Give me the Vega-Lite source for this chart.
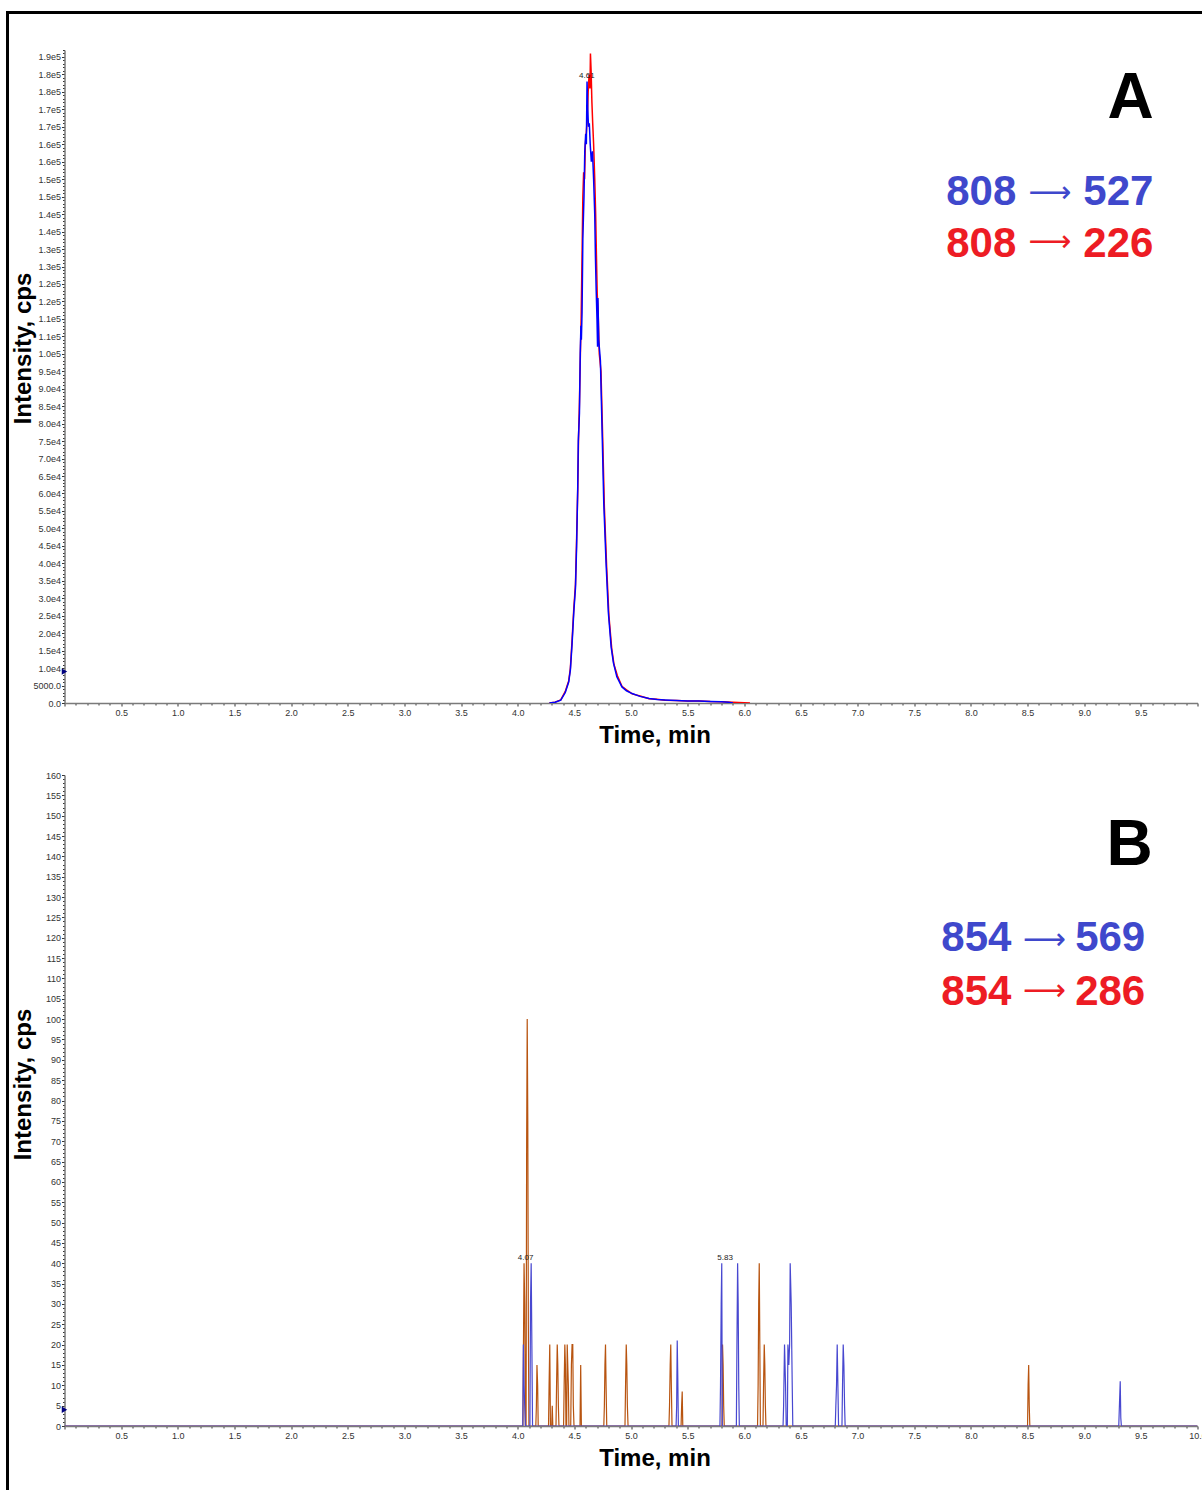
{
  "$schema": "https://vega.github.io/schema/vega-lite/v6.json",
  "padding": {"left": 5.5, "top": 10, "right": 0, "bottom": 0},
  "spacing": 72,
  "bounds": "flush",
  "background": "white",
  "config": {
    "view": {"stroke": null},
    "axis": {
      "grid": false,
      "zindex": 1,
      "labelFont": "Liberation Sans",
      "labelFontSize": 9,
      "labelColor": "#333333",
      "tickColor": "#333333",
      "domainColor": "#7a7a7a",
      "domainWidth": 1.5,
      "labelOverlap": false,
      "labelFlush": false,
      "labelBound": false,
      "titleFont": "Liberation Sans",
      "titleFontSize": 24,
      "titleFontWeight": "bold",
      "titleColor": "#000000"
    },
    "text": {"font": "Liberation Sans"}
  },
  "datasets": {
    "a527": [
      {"t":4.28,"v":0},{"t":4.33,"v":200},{"t":4.38,"v":800},{"t":4.42,"v":3000},{"t":4.45,"v":6000},{"t":4.465,"v":9500},{"t":4.48,"v":17000},{"t":4.495,"v":26000},{"t":4.51,"v":33000},{"t":4.52,"v":45000},{"t":4.53,"v":62000},{"t":4.535,"v":75000},{"t":4.545,"v":83000},{"t":4.552,"v":100000},{"t":4.558,"v":108000},{"t":4.562,"v":104000},{"t":4.568,"v":112000},{"t":4.575,"v":133000},{"t":4.585,"v":145000},{"t":4.592,"v":158000},{"t":4.6,"v":163000},{"t":4.606,"v":160000},{"t":4.612,"v":178000},{"t":4.618,"v":170000},{"t":4.625,"v":165000},{"t":4.632,"v":166000},{"t":4.64,"v":160000},{"t":4.65,"v":155000},{"t":4.66,"v":158000},{"t":4.67,"v":150000},{"t":4.68,"v":140000},{"t":4.686,"v":128000},{"t":4.693,"v":118000},{"t":4.7,"v":110000},{"t":4.705,"v":102000},{"t":4.708,"v":116000},{"t":4.715,"v":104000},{"t":4.73,"v":98000},{"t":4.745,"v":78000},{"t":4.76,"v":57000},{"t":4.78,"v":40000},{"t":4.8,"v":26000},{"t":4.825,"v":16000},{"t":4.845,"v":11500},{"t":4.875,"v":7500},{"t":4.92,"v":4600},{"t":4.96,"v":3500},{"t":5.01,"v":2700},{"t":5.08,"v":1900},{"t":5.16,"v":1300},{"t":5.23,"v":1000},{"t":5.3,"v":850},{"t":5.4,"v":700},{"t":5.5,"v":600},{"t":5.6,"v":550},{"t":5.7,"v":450},{"t":5.8,"v":350},{"t":5.86,"v":250},{"t":5.9,"v":0}
    ],
    "a226": [
      {"t":4.28,"v":0},{"t":4.33,"v":250},{"t":4.38,"v":900},{"t":4.42,"v":3300},{"t":4.45,"v":6300},{"t":4.465,"v":10000},{"t":4.48,"v":18000},{"t":4.495,"v":27000},{"t":4.51,"v":34000},{"t":4.52,"v":47000},{"t":4.53,"v":61000},{"t":4.537,"v":76000},{"t":4.545,"v":86000},{"t":4.552,"v":98000},{"t":4.56,"v":110000},{"t":4.568,"v":128000},{"t":4.575,"v":145000},{"t":4.582,"v":152000},{"t":4.59,"v":150000},{"t":4.597,"v":160000},{"t":4.605,"v":163000},{"t":4.615,"v":168000},{"t":4.622,"v":175000},{"t":4.63,"v":180000},{"t":4.638,"v":176000},{"t":4.642,"v":186000},{"t":4.648,"v":181000},{"t":4.655,"v":172000},{"t":4.662,"v":166000},{"t":4.67,"v":160000},{"t":4.68,"v":150000},{"t":4.688,"v":140000},{"t":4.695,"v":128000},{"t":4.702,"v":117000},{"t":4.71,"v":112000},{"t":4.72,"v":100000},{"t":4.735,"v":95000},{"t":4.75,"v":76000},{"t":4.765,"v":56000},{"t":4.785,"v":39000},{"t":4.805,"v":25000},{"t":4.83,"v":15500},{"t":4.85,"v":11000},{"t":4.88,"v":7800},{"t":4.92,"v":4800},{"t":4.96,"v":3800},{"t":5.01,"v":2600},{"t":5.08,"v":2000},{"t":5.16,"v":1200},{"t":5.23,"v":1050},{"t":5.3,"v":800},{"t":5.4,"v":750},{"t":5.5,"v":550},{"t":5.6,"v":600},{"t":5.7,"v":420},{"t":5.8,"v":380},{"t":5.9,"v":200},{"t":6.05,"v":0}
    ],
    "b286": [
      {"t":0,"v":0},
      {"t":4.046,"v":0},{"t":4.051,"v":20},{"t":4.056,"v":40},{"t":4.062,"v":30},{"t":4.068,"v":0},{"t":4.074,"v":0},{"t":4.079,"v":70},{"t":4.084,"v":100},{"t":4.089,"v":75},{"t":4.094,"v":25},{"t":4.099,"v":0},
      {"t":4.16,"v":0},{"t":4.165,"v":5},{"t":4.17,"v":15},{"t":4.176,"v":10},{"t":4.181,"v":0},
      {"t":4.272,"v":0},{"t":4.277,"v":10},{"t":4.283,"v":20},{"t":4.289,"v":0},{"t":4.3,"v":0},{"t":4.305,"v":5},{"t":4.31,"v":0},
      {"t":4.338,"v":0},{"t":4.343,"v":10},{"t":4.349,"v":20},{"t":4.354,"v":15},{"t":4.359,"v":5},{"t":4.364,"v":0},
      {"t":4.405,"v":0},{"t":4.41,"v":10},{"t":4.416,"v":20},{"t":4.421,"v":15},{"t":4.426,"v":0},{"t":4.432,"v":0},{"t":4.437,"v":20},{"t":4.442,"v":15},{"t":4.447,"v":10},{"t":4.452,"v":0},
      {"t":4.468,"v":0},{"t":4.474,"v":15},{"t":4.48,"v":20},{"t":4.486,"v":20},{"t":4.491,"v":5},{"t":4.497,"v":0},
      {"t":4.55,"v":0},{"t":4.556,"v":15},{"t":4.562,"v":0},
      {"t":4.76,"v":0},{"t":4.765,"v":5},{"t":4.77,"v":15},{"t":4.775,"v":20},{"t":4.78,"v":10},{"t":4.786,"v":0},
      {"t":4.947,"v":0},{"t":4.952,"v":10},{"t":4.958,"v":20},{"t":4.963,"v":15},{"t":4.968,"v":5},{"t":4.974,"v":0},
      {"t":5.335,"v":0},{"t":5.34,"v":5},{"t":5.346,"v":15},{"t":5.351,"v":20},{"t":5.356,"v":10},{"t":5.362,"v":0},
      {"t":5.442,"v":0},{"t":5.447,"v":5},{"t":5.452,"v":8.5},{"t":5.457,"v":0},
      {"t":5.803,"v":0},{"t":5.808,"v":20},{"t":5.813,"v":15},{"t":5.818,"v":5},{"t":5.823,"v":0},
      {"t":6.117,"v":0},{"t":6.122,"v":10},{"t":6.127,"v":30},{"t":6.132,"v":40},{"t":6.137,"v":20},{"t":6.142,"v":0},
      {"t":6.165,"v":0},{"t":6.17,"v":10},{"t":6.176,"v":20},{"t":6.181,"v":15},{"t":6.186,"v":5},{"t":6.191,"v":0},
      {"t":8.5,"v":0},{"t":8.505,"v":10},{"t":8.51,"v":15},{"t":8.515,"v":5},{"t":8.52,"v":0},
      {"t":10,"v":0}
    ],
    "b569": [
      {"t":0,"v":0},
      {"t":4.045,"v":0},{"t":4.05,"v":20},{"t":4.056,"v":10},{"t":4.062,"v":5},{"t":4.068,"v":0},
      {"t":4.108,"v":0},{"t":4.113,"v":30},{"t":4.119,"v":40},{"t":4.125,"v":20},{"t":4.131,"v":0},
      {"t":5.398,"v":0},{"t":5.403,"v":5},{"t":5.408,"v":21},{"t":5.413,"v":12},{"t":5.418,"v":0},
      {"t":5.785,"v":0},{"t":5.79,"v":10},{"t":5.796,"v":30},{"t":5.801,"v":40},{"t":5.806,"v":0},
      {"t":5.93,"v":0},{"t":5.935,"v":20},{"t":5.941,"v":40},{"t":5.946,"v":30},{"t":5.951,"v":10},{"t":5.956,"v":0},
      {"t":6.342,"v":0},{"t":6.347,"v":5},{"t":6.355,"v":20},{"t":6.364,"v":10},{"t":6.37,"v":0},{"t":6.38,"v":0},{"t":6.385,"v":20},{"t":6.393,"v":15},{"t":6.4,"v":20},{"t":6.405,"v":40},{"t":6.414,"v":30},{"t":6.423,"v":10},{"t":6.428,"v":0},
      {"t":6.803,"v":0},{"t":6.808,"v":5},{"t":6.814,"v":10},{"t":6.82,"v":20},{"t":6.826,"v":10},{"t":6.832,"v":0},
      {"t":6.862,"v":0},{"t":6.867,"v":10},{"t":6.873,"v":20},{"t":6.879,"v":15},{"t":6.885,"v":5},{"t":6.89,"v":0},
      {"t":9.305,"v":0},{"t":9.312,"v":6},{"t":9.318,"v":11},{"t":9.323,"v":2},{"t":9.328,"v":0},
      {"t":10,"v":0}
    ],
    "aLabels": [{"t":4.61,"v":178000,"label":"4.61"}],
    "bLabels": [{"t":4.07,"v":40,"label":"4.07"},{"t":5.83,"v":40,"label":"5.83"}],
    "aMarker": [{"t":0,"v":9000}],
    "bMarker": [{"t":0,"v":4}]
  },
  "vconcat": [
    {
      "width": 1133,
      "height": 653,
      "layer": [
        {"data": {"name": "a226"}, "mark": {"type": "line", "color": "#ff0000", "strokeWidth": 1.5, "clip": true},
          "encoding": {
            "x": {"field": "t", "type": "quantitative", "title": "Time, min",
              "scale": {"domain": [0, 10], "nice": false, "zero": false},
              "axis": {"tickCount": 100,
                "labelExpr": "abs(datum.value*2 - round(datum.value*2)) < 0.000001 && datum.value > 0.01 && datum.value < 9.99 ? format(datum.value, '.1f') : ''",
                "tickSize": {"condition": {"test": "abs(datum.value*2 - round(datum.value*2)) < 0.000001", "value": 3}, "value": 2},
                "labelPadding": 2, "titlePadding": 6, "titleX": 590}},
            "y": {"field": "v", "type": "quantitative", "title": "Intensity, cps",
              "scale": {"domain": [0, 187000], "nice": false},
              "axis": {"tickCount": 187,
                "labelExpr": "datum.value % 5000 != 0 ? '' : datum.value == 0 ? '0.0' : datum.value < 10000 ? '5000.0' : datum.value < 100000 ? format(datum.value/10000, '.1f') + 'e4' : format(round(datum.value/10000)/10, '.1f') + 'e5'",
                "tickSize": {"condition": {"test": "datum.value % 5000 == 0", "value": 3}, "value": 2},
                "labelPadding": 1, "titleX": -34, "titleY": 298, "titleBaseline": "alphabetic", "titleAlign": "center"}}
          }},
        {"data": {"name": "a527"}, "mark": {"type": "line", "color": "#0000ff", "strokeWidth": 1.5, "clip": true},
          "encoding": {"x": {"field": "t", "type": "quantitative", "title": "Time, min"}, "y": {"field": "v", "type": "quantitative", "title": "Intensity, cps"}}},
        {"data": {"name": "aLabels"}, "mark": {"type": "text", "fontSize": 8, "color": "#222222", "baseline": "bottom", "dy": -1},
          "encoding": {"x": {"field": "t", "type": "quantitative", "title": "Time, min"}, "y": {"field": "v", "type": "quantitative", "title": "Intensity, cps"}, "text": {"field": "label"}}},
        {"data": {"name": "aMarker"}, "mark": {"type": "point", "shape": "triangle-right", "filled": true, "size": 40, "color": "#000080", "opacity": 1, "clip": false},
          "encoding": {"x": {"field": "t", "type": "quantitative", "title": "Time, min"}, "y": {"field": "v", "type": "quantitative", "title": "Intensity, cps"}}},
        {"data": {"values": [{}]}, "mark": {"type": "rect", "filled": false, "color": "#000000", "strokeWidth": 3, "clip": false},
          "encoding": {"x": {"datum": -0.503, "type": "quantitative"}, "x2": {"datum": 11}, "y": {"datum": 197740, "type": "quantitative"}, "y2": {"datum": -250000}}},
        {"data": {"values": [{}]}, "mark": {"type": "text", "fontSize": 64, "fontWeight": "bold", "color": "#000000", "align": "center", "baseline": "alphabetic"},
          "encoding": {"x": {"datum": 9.41, "type": "quantitative"}, "y": {"datum": 167500, "type": "quantitative"}, "text": {"value": "A"}}},
        {"data": {"values": [{}]}, "mark": {"type": "text", "fontSize": 42, "fontWeight": "bold", "color": "#3f48cc", "align": "right", "baseline": "alphabetic"},
          "encoding": {"x": {"datum": 8.401, "type": "quantitative"}, "y": {"datum": 142600, "type": "quantitative"}, "text": {"value": "808"}}},
        {"data": {"values": [{}]}, "mark": {"type": "text", "fontSize": 30, "font": "DejaVu Sans", "color": "#3f48cc", "align": "center", "baseline": "middle"},
          "encoding": {"x": {"datum": 8.697, "type": "quantitative"}, "y": {"datum": 146000, "type": "quantitative"}, "text": {"value": "⟶"}}},
        {"data": {"values": [{}]}, "mark": {"type": "text", "fontSize": 42, "fontWeight": "bold", "color": "#3f48cc", "align": "left", "baseline": "alphabetic"},
          "encoding": {"x": {"datum": 8.992, "type": "quantitative"}, "y": {"datum": 142600, "type": "quantitative"}, "text": {"value": "527"}}},
        {"data": {"values": [{}]}, "mark": {"type": "text", "fontSize": 42, "fontWeight": "bold", "color": "#ed1c24", "align": "right", "baseline": "alphabetic"},
          "encoding": {"x": {"datum": 8.401, "type": "quantitative"}, "y": {"datum": 127700, "type": "quantitative"}, "text": {"value": "808"}}},
        {"data": {"values": [{}]}, "mark": {"type": "text", "fontSize": 30, "font": "DejaVu Sans", "color": "#ed1c24", "align": "center", "baseline": "middle"},
          "encoding": {"x": {"datum": 8.697, "type": "quantitative"}, "y": {"datum": 132000, "type": "quantitative"}, "text": {"value": "⟶"}}},
        {"data": {"values": [{}]}, "mark": {"type": "text", "fontSize": 42, "fontWeight": "bold", "color": "#ed1c24", "align": "left", "baseline": "alphabetic"},
          "encoding": {"x": {"datum": 8.992, "type": "quantitative"}, "y": {"datum": 127700, "type": "quantitative"}, "text": {"value": "226"}}}
      ]
    },
    {
      "width": 1133,
      "height": 651,
      "layer": [
        {"data": {"name": "b286"}, "mark": {"type": "line", "color": "#b85410", "strokeWidth": 1.2, "clip": true},
          "encoding": {
            "x": {"field": "t", "type": "quantitative", "title": "Time, min",
              "scale": {"domain": [0, 10], "nice": false, "zero": false},
              "axis": {"tickCount": 100,
                "labelExpr": "abs(datum.value*2 - round(datum.value*2)) < 0.000001 && datum.value > 0.01 ? format(datum.value, '.1f') : ''",
                "tickSize": {"condition": {"test": "abs(datum.value*2 - round(datum.value*2)) < 0.000001", "value": 3}, "value": 2},
                "labelPadding": 2, "titlePadding": 6, "titleX": 590}},
            "y": {"field": "v", "type": "quantitative", "title": "Intensity, cps",
              "scale": {"domain": [0, 160], "nice": false},
              "axis": {"tickCount": 160,
                "labelExpr": "datum.value % 5 != 0 ? '' : format(datum.value, 'd')",
                "tickSize": {"condition": {"test": "datum.value % 5 == 0", "value": 3}, "value": 2},
                "labelPadding": 1, "titleX": -34, "titleY": 309, "titleBaseline": "alphabetic", "titleAlign": "center"}}
          }},
        {"data": {"name": "b569"}, "mark": {"type": "line", "color": "#4848d0", "strokeWidth": 1.2, "clip": true},
          "encoding": {"x": {"field": "t", "type": "quantitative", "title": "Time, min"}, "y": {"field": "v", "type": "quantitative", "title": "Intensity, cps"}}},
        {"data": {"name": "bLabels"}, "mark": {"type": "text", "fontSize": 8, "color": "#222222", "baseline": "bottom", "dy": -1},
          "encoding": {"x": {"field": "t", "type": "quantitative", "title": "Time, min"}, "y": {"field": "v", "type": "quantitative", "title": "Intensity, cps"}, "text": {"field": "label"}}},
        {"data": {"name": "bMarker"}, "mark": {"type": "point", "shape": "triangle-right", "filled": true, "size": 40, "color": "#000080", "opacity": 1, "clip": false},
          "encoding": {"x": {"field": "t", "type": "quantitative", "title": "Time, min"}, "y": {"field": "v", "type": "quantitative", "title": "Intensity, cps"}}},
        {"data": {"values": [{}]}, "mark": {"type": "text", "fontSize": 64, "fontWeight": "bold", "color": "#000000", "align": "center", "baseline": "alphabetic"},
          "encoding": {"x": {"datum": 9.4, "type": "quantitative"}, "y": {"datum": 138, "type": "quantitative"}, "text": {"value": "B"}}},
        {"data": {"values": [{}]}, "mark": {"type": "text", "fontSize": 42, "fontWeight": "bold", "color": "#3f48cc", "align": "right", "baseline": "alphabetic"},
          "encoding": {"x": {"datum": 8.357, "type": "quantitative"}, "y": {"datum": 116.7, "type": "quantitative"}, "text": {"value": "854"}}},
        {"data": {"values": [{}]}, "mark": {"type": "text", "fontSize": 30, "font": "DejaVu Sans", "color": "#3f48cc", "align": "center", "baseline": "middle"},
          "encoding": {"x": {"datum": 8.648, "type": "quantitative"}, "y": {"datum": 119.4, "type": "quantitative"}, "text": {"value": "⟶"}}},
        {"data": {"values": [{}]}, "mark": {"type": "text", "fontSize": 42, "fontWeight": "bold", "color": "#3f48cc", "align": "left", "baseline": "alphabetic"},
          "encoding": {"x": {"datum": 8.92, "type": "quantitative"}, "y": {"datum": 116.7, "type": "quantitative"}, "text": {"value": "569"}}},
        {"data": {"values": [{}]}, "mark": {"type": "text", "fontSize": 42, "fontWeight": "bold", "color": "#ed1c24", "align": "right", "baseline": "alphabetic"},
          "encoding": {"x": {"datum": 8.357, "type": "quantitative"}, "y": {"datum": 103.5, "type": "quantitative"}, "text": {"value": "854"}}},
        {"data": {"values": [{}]}, "mark": {"type": "text", "fontSize": 30, "font": "DejaVu Sans", "color": "#ed1c24", "align": "center", "baseline": "middle"},
          "encoding": {"x": {"datum": 8.648, "type": "quantitative"}, "y": {"datum": 106.9, "type": "quantitative"}, "text": {"value": "⟶"}}},
        {"data": {"values": [{}]}, "mark": {"type": "text", "fontSize": 42, "fontWeight": "bold", "color": "#ed1c24", "align": "left", "baseline": "alphabetic"},
          "encoding": {"x": {"datum": 8.92, "type": "quantitative"}, "y": {"datum": 103.5, "type": "quantitative"}, "text": {"value": "286"}}}
      ]
    }
  ]
}
